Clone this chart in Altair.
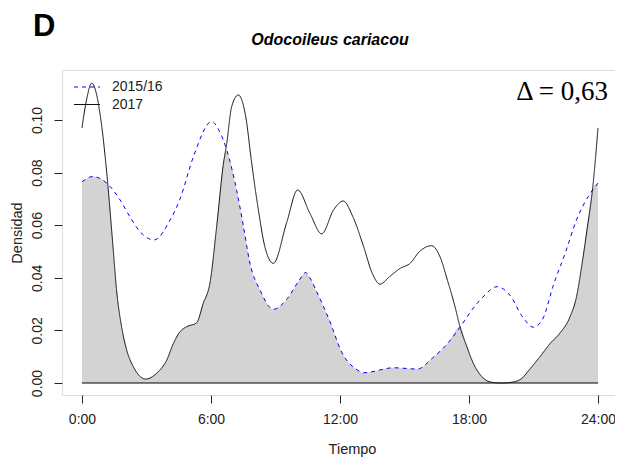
import altair as alt
import pandas as pd

# ---- data ----
hours_2017 = [0, 0.22, 0.45, 0.92, 1.15, 1.46, 1.6, 1.85, 2.08, 2.39, 2.96, 3.47, 3.94, 4.25, 4.56,
              4.87, 5.33, 5.64, 5.95, 6.27, 6.57, 6.73, 6.96, 7.27, 7.64, 7.87, 8.2, 8.5, 8.9, 9.52,
              10.03, 10.6, 11.15, 11.7, 12.15, 12.6, 13.1, 13.5, 13.86, 14.3, 14.8, 15.26, 15.7,
              16.26, 16.65, 17.0, 17.35, 17.58, 17.9, 18.2, 18.6, 19.05, 19.5, 19.9, 20.4, 20.8,
              21.3, 21.77, 22.23, 22.7, 23.0, 23.27, 23.5, 23.75, 24]
dens_2017 = [0.097, 0.108, 0.114, 0.0975, 0.080, 0.050, 0.036, 0.021, 0.0125, 0.0062, 0.0015,
             0.0037, 0.0087, 0.015, 0.0195, 0.0214, 0.0229, 0.0303, 0.038, 0.060, 0.083, 0.091,
             0.105, 0.1095, 0.100, 0.085, 0.066, 0.052, 0.0455, 0.061, 0.0734, 0.0645, 0.0567,
             0.0658, 0.0692, 0.0632, 0.0518, 0.0417, 0.0376, 0.0404, 0.0436, 0.0455, 0.050,
             0.0522, 0.048, 0.039, 0.029, 0.0214, 0.0138, 0.0075, 0.0024, 0.0003, 0.0, 0.0002,
             0.0014, 0.005, 0.010, 0.015, 0.019, 0.0252, 0.0328, 0.046, 0.059, 0.074, 0.097]

hours_1516 = [0, 0.5, 1.15, 1.77, 2.23, 2.7, 3.35, 4.1, 4.56, 5.18, 6.03, 6.4, 6.73, 7.2, 7.5,
              7.8, 8.3, 8.9, 9.5, 10.1, 10.4, 10.6, 10.9, 11.5, 12.1, 12.8, 13.1, 14.5, 15.6,
              16.3, 17.0, 17.6, 18.2, 18.65, 19.3, 19.9, 20.5, 21.0, 21.45, 21.9, 22.5, 23.0,
              23.63, 24]
dens_1516 = [0.0765, 0.0785, 0.076, 0.0696, 0.0632, 0.0575, 0.0544, 0.062, 0.070, 0.086, 0.0994,
             0.0956, 0.0886, 0.073, 0.060, 0.046, 0.035, 0.028, 0.0316, 0.039, 0.042, 0.040,
             0.035, 0.024, 0.0114, 0.005, 0.0039, 0.0058, 0.0053, 0.0095, 0.015, 0.0214, 0.0285,
             0.0327, 0.0366, 0.0334, 0.025, 0.0212, 0.0247, 0.0366, 0.050, 0.062, 0.072, 0.076]

# top edge of the grey overlap area
hours_overlap = [0, 0.5, 1.16, 1.46, 1.6, 1.85, 2.08, 2.39, 2.96, 3.47, 3.94, 4.25, 4.56, 4.87,
                 5.33, 5.64, 5.95, 6.27, 6.57, 6.68, 7.2, 7.5, 7.8, 8.3, 8.9, 9.5, 10.1, 10.4,
                 10.6, 10.9, 11.5, 12.1, 12.8, 13.1, 14.5, 15.6, 16.3, 17.0, 17.58, 17.9, 18.2,
                 18.6, 19.05, 19.5, 19.9, 20.4, 20.8, 21.3, 21.77, 22.23, 22.7, 23.0, 23.27,
                 23.5, 23.75, 24]
dens_overlap = [0.0765, 0.0785, 0.076, 0.050, 0.036, 0.021, 0.0125, 0.0062, 0.0015, 0.0037,
                0.0087, 0.015, 0.0195, 0.0214, 0.0229, 0.0303, 0.038, 0.060, 0.083, 0.088,
                0.073, 0.060, 0.046, 0.035, 0.028, 0.0316, 0.039, 0.042, 0.040, 0.035, 0.024,
                0.0114, 0.005, 0.0039, 0.0058, 0.0053, 0.0095, 0.015, 0.0214, 0.0138, 0.0075,
                0.0024, 0.0003, 0.0, 0.0002, 0.0014, 0.005, 0.010, 0.015, 0.019, 0.0252, 0.0328,
                0.046, 0.059, 0.074, 0.076]

series_names = ["2015/16", "2017"]
series_colors = ["blue", "#111111"]
series_dashes = [[4, 4], [1, 0]]
x_ticks = [0, 6, 12, 18, 24]
y_ticks = [0.0, 0.02, 0.04, 0.06, 0.08, 0.10]
title_text = "Odocoileus cariacou"
panel_letter = "D"
delta_text = "Δ = 0,63"

lines_df = pd.concat([
    pd.DataFrame({"hora": hours_1516, "dens": dens_1516, "serie": series_names[0]}),
    pd.DataFrame({"hora": hours_2017, "dens": dens_2017, "serie": series_names[1]}),
], ignore_index=True)
overlap_df = pd.DataFrame({"hora": hours_overlap, "dens": dens_overlap})
legend_df = pd.DataFrame({"serie": series_names, "row": [0, 1]})
one_row = pd.DataFrame({"k": [0]})

FONT = "Liberation Sans"
INK = "#222222"

xscale = alt.Scale(domain=[-0.93, 24.79], nice=False, zero=False)
yscale = alt.Scale(domain=[-0.00456, 0.119], nice=False, zero=False)
cscale = alt.Scale(domain=series_names, range=series_colors)
dscale = alt.Scale(domain=series_names, range=series_dashes)

x_axis = alt.Axis(values=x_ticks, labelExpr="datum.value + ':00'", title="Tiempo",
                  domain=False, grid=False, tickSize=8, tickColor=INK,
                  labelFont=FONT, labelFontSize=14, labelColor=INK, labelPadding=9,
                  titleFont=FONT, titleFontSize=14.5, titleFontWeight="normal", titleColor=INK,
                  titleX=290, titleY=54.5, titleAlign="center", titleBaseline="middle")
y_axis = alt.Axis(values=y_ticks, format=".2f", title="Densidad",
                  domain=False, grid=False, tickSize=8, tickColor=INK,
                  labelFont=FONT, labelFontSize=14, labelColor=INK, labelAngle=270,
                  labelAlign="center", labelBaseline="bottom", labelPadding=10,
                  titleFont=FONT, titleFontSize=14.5, titleFontWeight="normal", titleColor=INK,
                  titleAngle=270, titleX=-45, titleY=162.5, titleAlign="center",
                  titleBaseline="middle")

area = alt.Chart(overlap_df).mark_area(color="#d3d3d3", interpolate="monotone").encode(
    x=alt.X("hora:Q", scale=xscale, axis=x_axis),
    y=alt.Y("dens:Q", scale=yscale, axis=y_axis),
    y2=alt.datum(0),
)

base_rule = alt.Chart(one_row).mark_rule(color="black", strokeWidth=1).encode(
    x=alt.datum(0, scale=xscale), x2=alt.datum(24), y=alt.datum(0, scale=yscale)
)

lines = alt.Chart(lines_df).mark_line(interpolate="monotone", strokeWidth=1).encode(
    x=alt.X("hora:Q", scale=xscale),
    y=alt.Y("dens:Q", scale=yscale),
    color=alt.Color("serie:N", scale=cscale, legend=None),
    strokeDash=alt.StrokeDash("serie:N", scale=dscale, legend=None),
)

# legend box (top-left inside the plot), one entry per series
legend_layers = []
for i in range(len(series_names)):
    row_y = 17.0 + i * 17.5
    sym = alt.Chart(legend_df).transform_filter(f"datum.row == {i}").mark_rule(
        strokeWidth=1).encode(
        x=alt.value(12), x2=alt.value(38), y=alt.value(row_y),
        color=alt.Color("serie:N", scale=cscale, legend=None),
        strokeDash=alt.StrokeDash("serie:N", scale=dscale, legend=None),
    )
    lab = alt.Chart(legend_df).transform_filter(f"datum.row == {i}").mark_text(
        font=FONT, fontSize=14, align="left", baseline="middle", color=INK).encode(
        x=alt.value(50), y=alt.value(row_y), text="serie:N")
    legend_layers += [sym, lab]

delta = alt.Chart(one_row).mark_text(
    text=delta_text, font="Liberation Serif", fontSize=27, align="right",
    baseline="alphabetic", color="black"
).encode(x=alt.value(546), y=alt.value(29.5))

panel = alt.Chart(one_row).mark_text(
    text=panel_letter, font=FONT, fontSize=31, fontWeight="bold", align="left",
    baseline="alphabetic", color="black"
).encode(x=alt.value(-29), y=alt.value(-34))

title = alt.Chart(one_row).mark_text(
    text=title_text, font=FONT, fontSize=16, fontStyle="italic", fontWeight="bold",
    align="center", baseline="alphabetic", color="black"
).encode(x=alt.value(268), y=alt.value(-25))

chart = alt.layer(area, base_rule, lines, *legend_layers, delta, panel, title).properties(
    width=553, height=325,
    autosize=alt.AutoSizeParams(type="none"),
    padding={"left": 54, "top": 62, "right": 0, "bottom": 62},
).configure_view(stroke=INK, strokeWidth=1).configure(background="white")

chart.save("out.html", embed_options={"renderer": "svg", "actions": False})
